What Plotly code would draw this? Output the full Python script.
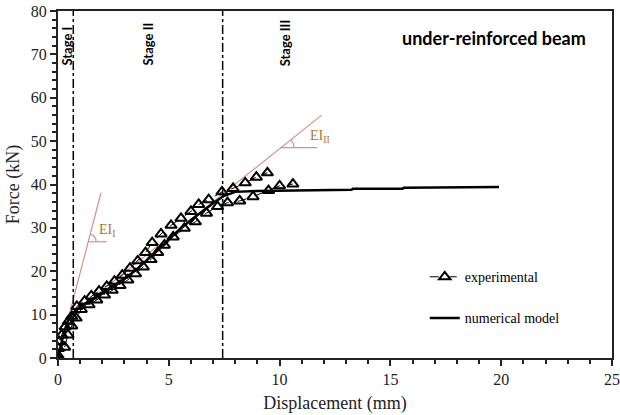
import numpy as np
import plotly.graph_objects as go

# ---------------- data ----------------
exp_upper_disp = [0.00, 0.00, 0.02, 0.05, 0.17, 0.32, 0.46, 0.62, 0.85, 1.20, 1.50, 1.85, 2.20, 2.55,
                  2.90, 3.25, 3.60, 3.95, 4.25, 4.65, 5.10, 5.55, 6.00, 6.35, 6.80, 7.40, 7.90,
                  8.45, 8.95, 9.45]
exp_upper_force = [0.0, 0.6, 2.2, 3.8, 5.3, 7.2, 8.4, 9.6, 11.9, 13.1, 14.3, 15.4, 16.5, 17.7,
                   19.1, 20.7, 22.4, 24.3, 26.6, 28.6, 30.6, 32.2, 33.8, 35.4, 36.5, 38.3, 39.1,
                   40.4, 41.7, 42.7]
exp_lower_disp = [0.30, 0.45, 0.62, 0.82, 1.05, 1.40, 1.75, 2.10, 2.45, 2.80, 3.15, 3.50, 3.85,
                  4.20, 4.50, 4.80, 5.20, 5.70, 6.20, 6.70, 7.20, 7.65, 8.20, 8.80, 9.50,
                  10.00, 10.60]
exp_lower_force = [2.5, 5.3, 7.4, 9.2, 11.2, 12.3, 13.4, 14.5, 15.6, 16.7, 18.0, 19.4, 21.0,
                   22.7, 24.3, 26.0, 27.9, 29.9, 31.4, 33.4, 34.9, 35.8, 36.2, 37.2, 38.6,
                   39.7, 40.1]

num_disp = [0.0, 0.2, 0.4, 0.6, 0.8, 1.0, 1.5, 2.0, 2.5, 3.0, 3.5, 4.0, 4.5, 5.0, 5.5, 6.0,
            6.5, 7.0, 7.5, 8.0, 9.0, 10.0, 12.3, 13.25, 13.3, 15.55, 15.6, 17.5, 17.55, 19.9]
num_force = [0.0, 4.5, 8.0, 10.0, 11.0, 11.8, 13.4, 15.0, 16.6, 18.3, 20.2, 22.4, 24.8, 27.3,
             29.7, 31.8, 33.8, 35.7, 37.4, 38.3, 38.5, 38.6, 38.8, 38.8, 39.0, 39.0, 39.25,
             39.25, 39.4, 39.4]

ei1_disp = [0.0, 1.94]
ei1_force = [0.0, 38.1]
ei2_disp = [0.60, 11.90]
ei2_force = [9.9, 56.0]
ei1_horiz_disp = [1.365, 2.20]
ei1_horiz_force = [26.8, 26.8]
ei2_horiz_disp = [10.06, 11.68]
ei2_horiz_force = [48.5, 48.5]

stage_bounds = [0.69, 7.43]
stage_labels = ["Stage I", "Stage II", "Stage III"]
stage_label_x = [0.40, 4.04, 10.23]
stage_label_y = [72.0, 72.4, 72.7]

x_ticks = [0, 5, 10, 15, 20, 25]
y_ticks = [0, 10, 20, 30, 40, 50, 60, 70, 80]

# ---------------- layout geometry ----------------
W, H = 620, 415
ML, MR, MT, MB = 58, 8, 11, 57
XR = [0, 25]
YR = [0, 80]
px_x = (W - ML - MR) / (XR[1] - XR[0])
px_y = (H - MT - MB) / (YR[1] - YR[0])

PINK = "#d68f8f"
BROWN = "#a87838"
SERIF = "Liberation Serif, Times New Roman, serif"
SANS = "Lato, Open Sans, sans-serif"


def arc(cx, cy, slope, r_px):
    ang = np.arctan(slope * px_y / px_x)
    t = np.linspace(0, ang, 20)
    return (cx + r_px * np.cos(t) / px_x).tolist(), (cy + r_px * np.sin(t) / px_y).tolist()


fig = go.Figure()

# tangent lines
for xs, ys in [(ei1_disp, ei1_force), (ei2_disp, ei2_force),
               (ei1_horiz_disp, ei1_horiz_force), (ei2_horiz_disp, ei2_horiz_force)]:
    fig.add_trace(go.Scatter(x=xs, y=ys, mode="lines", line=dict(color=PINK, width=1.2),
                             showlegend=False, hoverinfo="skip"))
s1 = (ei1_force[1] - ei1_force[0]) / (ei1_disp[1] - ei1_disp[0])
s2 = (ei2_force[1] - ei2_force[0]) / (ei2_disp[1] - ei2_disp[0])
for cx, cy, s, r in [(ei1_horiz_disp[0], ei1_horiz_force[0], s1, 8),
                     (ei2_horiz_disp[0], ei2_horiz_force[0], s2, 13)]:
    ax_, ay_ = arc(cx, cy, s, r)
    fig.add_trace(go.Scatter(x=ax_, y=ay_, mode="lines", line=dict(color=PINK, width=1.2),
                             showlegend=False, hoverinfo="skip"))

# experimental
fig.add_trace(go.Scatter(
    x=exp_upper_disp + [None] + exp_lower_disp,
    y=exp_upper_force + [None] + exp_lower_force,
    mode="lines+markers", name="experimental",
    line=dict(color="black", width=1, dash="dash"),
    marker=dict(symbol="triangle-up-open", size=10, color="black", line=dict(width=2, color="black")),
    legendgroup="a", connectgaps=False,
))

# numerical
fig.add_trace(go.Scatter(
    x=num_disp, y=num_force, mode="lines", name="numerical model",
    line=dict(color="black", width=2.5), legendgroup="b",
))

# stage boundaries
for xb in stage_bounds:
    fig.add_shape(type="line", x0=xb, x1=xb, y0=YR[0], y1=YR[1], xref="x", yref="y",
                  line=dict(color="black", width=1.5, dash="dashdot"))

for txt, xx, yy in zip(stage_labels, stage_label_x, stage_label_y):
    fig.add_annotation(x=xx, y=yy, text=f"<b>{txt}</b>", textangle=-90, showarrow=False,
                       font=dict(family=SANS, size=13, color="black"))

fig.add_annotation(x=1.76, y=29.5, text="EI<sub>I</sub>", showarrow=False, xanchor="left",
                   font=dict(family=SERIF, size=14, color=BROWN))
fig.add_annotation(x=11.29, y=51.0, text="EI<sub>II</sub>", showarrow=False, xanchor="left",
                   font=dict(family=SERIF, size=14, color=BROWN))

fig.add_annotation(x=23.93, y=73.8, text="<b>under-reinforced beam</b>", showarrow=False,
                   xanchor="right", font=dict(family=SANS, size=18, color="black"))

fig.update_layout(
    width=W, height=H,
    margin=dict(l=ML, r=MR, t=MT, b=MB, autoexpand=False),
    paper_bgcolor="white", plot_bgcolor="white",
    showlegend=True,
    legend=dict(x=0.662, y=0.279, xanchor="left", yanchor="top", bgcolor="rgba(0,0,0,0)",
                font=dict(family=SERIF, size=14, color="black"), tracegroupgap=20,
                traceorder="grouped"),
    font=dict(family=SERIF, color="#222"),
)
fig.update_xaxes(
    range=XR, tickvals=x_ticks, ticks="outside", ticklen=6, tickwidth=1.5, tickcolor="#222",
    showline=True, linewidth=2, linecolor="#222", mirror=True, showgrid=False, zeroline=False,
    automargin=False, ticklabeloverflow="allow",
    minor=dict(dtick=1, ticks="outside", ticklen=4, tickcolor="#222", showgrid=False),
    tickfont=dict(family=SERIF, size=16, color="#222"),
    title=dict(text="Displacement (mm)", font=dict(family=SERIF, size=18, color="#222"), standoff=9),
)
fig.update_yaxes(
    range=YR, tickvals=y_ticks, ticks="outside", ticklen=6, tickwidth=1.5, tickcolor="#222",
    showline=True, linewidth=2, linecolor="#222", mirror=True, showgrid=False, zeroline=False,
    automargin=False, ticklabeloverflow="allow",
    minor=dict(dtick=2, ticks="outside", ticklen=4, tickcolor="#222", showgrid=False),
    tickfont=dict(family=SERIF, size=16, color="#222"),
    title=dict(text="Force (kN)", font=dict(family=SERIF, size=18, color="#222"), standoff=6),
)

# remove the default 8px page margin so the 620x415 figure fills the window
fig.write_html("out.html", config={"displayModeBar": False},
               post_script="document.body.style.margin='0';document.body.style.overflow='hidden';")
